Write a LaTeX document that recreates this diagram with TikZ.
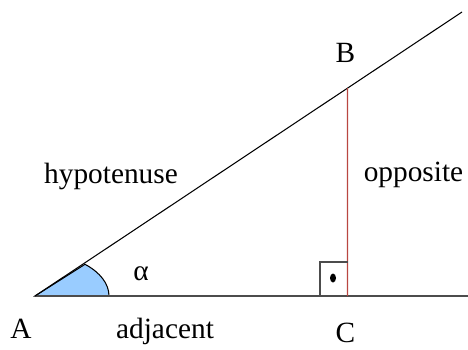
\documentclass[tikz,border=0pt]{standalone}
\usepackage{fontspec}
\setmainfont{Liberation Serif}
\definecolor{anglefill}{RGB}{153,204,255}
\definecolor{oppred}{RGB}{185,70,65}
\begin{document}
\begin{tikzpicture}[line width=0.6pt, every node/.append style={font=\fontsize{16.7}{20}\selectfont, inner sep=0pt, anchor=base}]
  \useasboundingbox (0,0) rectangle (9.36,6.98);
  \coordinate (A) at (0.70,1.06); \coordinate (C) at (6.95,1.06);
  \coordinate (E) at (9.36,1.06); \coordinate (H) at (9.24,6.74);
  \path (A) -- (H) coordinate[pos=0.7318] (B);
  \filldraw[fill=anglefill] (A) -- ++(1.48,0) arc[start angle=0, end angle=47.5, x radius=1.48, y radius=0.86] -- cycle;
  \draw[black!70] (A) -- (E);  \draw (A) -- (H);
  \draw[oppred] (C) -- (B);
  \draw[black!70] (C) ++(-0.55,0) |- ++(0.55,0.68);
  \fill (6.66,1.42) ellipse [x radius=0.06, y radius=0.09];
  \node (lA) at (0.42,0.22) {A};       \node (lB) at (6.91,5.72) {B};
  \node (lC) at (6.91,0.14) {C};       \node (la) at (2.82,1.38) {α};
  \node (hyp) at (2.22,3.32) {hypotenuse};
  \node (opp) at (8.27,3.36) {opposite};
  \node (adj) at (3.30,0.22) {adjacent};
\end{tikzpicture}
\end{document}
